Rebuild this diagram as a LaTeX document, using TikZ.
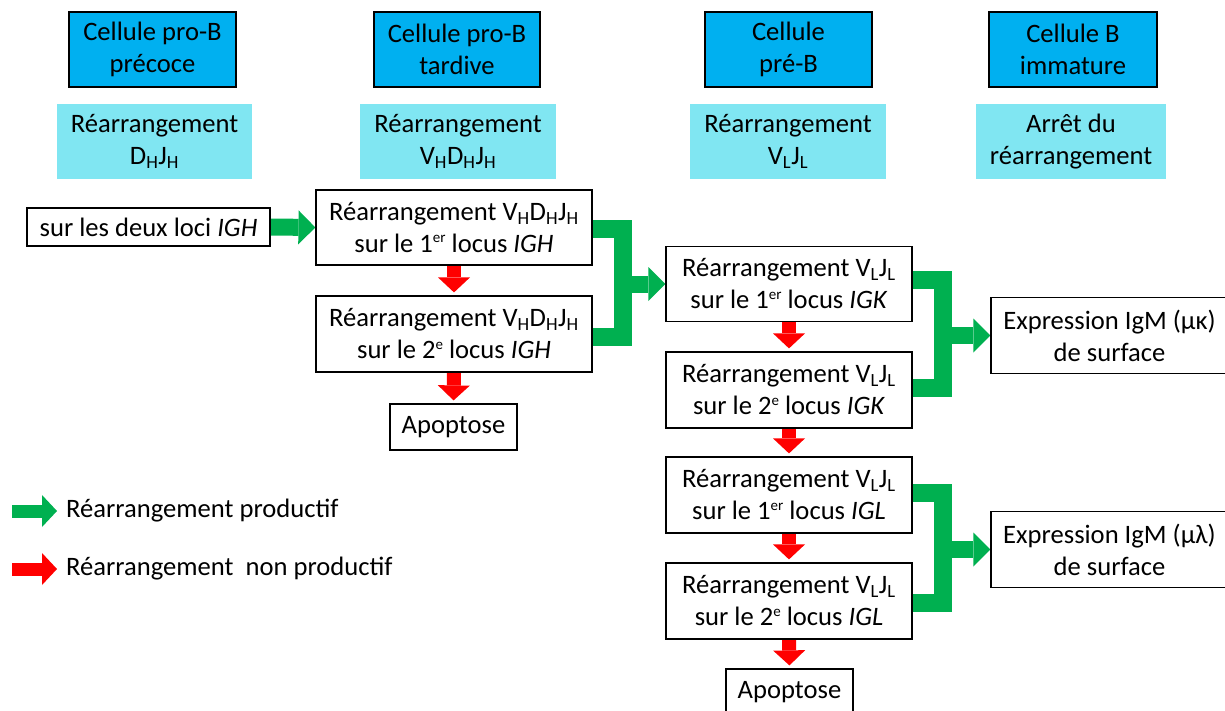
\documentclass[tikz,border=0pt]{standalone}
\usepackage{fontspec}
\setmainfont{Carlito}
\usetikzlibrary{arrows.meta,backgrounds,calc}
\definecolor{dblue}{RGB}{0,176,240}
\definecolor{lblue}{RGB}{128,230,242}
\definecolor{pgreen}{RGB}{0,176,80}
\definecolor{pred}{RGB}{255,0,0}
\newcommand\sps[1]{\raisebox{0.36em}{\fontsize{15}{15}\selectfont #1}}
\begin{document}
\begin{tikzpicture}[x=1pt,y=-1pt,
 every node/.style={font=\fontsize{26.6}{32}\selectfont, align=center, inner sep=0pt},
 stage/.style={draw=black, line width=1.2pt, fill=dblue, minimum width=167pt, minimum height=75pt},
 phase/.style={fill=lblue, minimum width=195pt, minimum height=75pt},
 box/.style={draw=black, line width=1.2pt, fill=white, minimum height=75pt},
 gline/.style={draw=pgreen, line width=18pt},
 garrow/.style={draw=pgreen, line width=17pt, -{Triangle[length=17pt,width=34pt,line width=0pt]}},
 rarrow/.style={draw=pred, line width=14pt, shorten >=3pt, -{Triangle[length=15pt,width=32pt,line width=0pt]}},
 legg/.style={draw=pgreen, line width=13pt, -{Triangle[length=15pt,width=32pt,line width=0pt]}},
 legr/.style={draw=pred, line width=13pt, -{Triangle[length=15pt,width=32pt,line width=0pt]}},
]
\useasboundingbox (0,0) rectangle (1225,711);
% stages
\node[stage] (d1) at (152.5,49.5) {Cellule pro-B\\précoce};
\node[stage, minimum width=166pt] (d2) at (457,49.5) {Cellule pro-B\\tardive};
\node[stage] (d3) at (788.5,49.5) {Cellule\\pré-B};
\node[stage, minimum width=168pt] (d4) at (1073,49.5) {Cellule B\\immature};
% phases
\node[phase] (l1) at (154.5,141.5) {Réarrangement\\D\textsubscript{H}J\textsubscript{H}};
\node[phase, minimum width=196pt] (l2) at (458,141.5) {Réarrangement\\V\textsubscript{H}D\textsubscript{H}J\textsubscript{H}};
\node[phase, minimum width=196pt] (l3) at (788,141.5) {Réarrangement\\V\textsubscript{L}J\textsubscript{L}};
\node[phase, minimum width=190pt] (l4) at (1071,141.5) {Arrêt du\\réarrangement};
% boxes
\node[box, minimum width=243pt, minimum height=38pt] (loci) at (148.5,227) {sur les deux loci \textit{IGH}};
\node[box, minimum width=276pt] (vh1) at (454,227.5) {Réarrangement V\textsubscript{H}D\textsubscript{H}J\textsubscript{H}\\sur le 1\sps{er} locus \textit{IGH}};
\node[box, minimum width=276pt, minimum height=76pt] (vh2) at (454,334) {Réarrangement V\textsubscript{H}D\textsubscript{H}J\textsubscript{H}\\sur le 2\sps{e} locus \textit{IGH}};
\node[box, minimum width=127pt, minimum height=46pt] (apo1) at (453.5,427) {Apoptose};
\node[box, minimum width=246pt] (ka) at (789,284) {Réarrangement V\textsubscript{L}J\textsubscript{L}\\sur le 1\sps{er} locus \textit{IGK}};
\node[box, minimum width=246pt, minimum height=76pt] (kb) at (789,390) {Réarrangement V\textsubscript{L}J\textsubscript{L}\\sur le 2\sps{e} locus \textit{IGK}};
\node[box, minimum width=246pt, minimum height=76pt] (la) at (789,495) {Réarrangement V\textsubscript{L}J\textsubscript{L}\\sur le 1\sps{er} locus \textit{IGL}};
\node[box, minimum width=246pt, minimum height=76pt] (lb) at (789,601) {Réarrangement V\textsubscript{L}J\textsubscript{L}\\sur le 2\sps{e} locus \textit{IGL}};
\node[box, minimum width=127pt, minimum height=46pt] (apo2) at (789.5,692) {Apoptose};
\node[box, minimum width=237pt, minimum height=76pt] (ek) at (1109.5,335.5) {Expression IgM (µκ)\\de surface};
\node[box, minimum width=237pt, minimum height=76pt] (el) at (1109.5,549.5) {Expression IgM (µλ)\\de surface};
% legend
\coordinate (g0) at (12,511);
\coordinate (g1) at (57,511);
\coordinate (r0) at (12,569);
\coordinate (r1) at (57,569);
\node[anchor=west] (lgg) at (66,511) {Réarrangement productif};
\node[anchor=west] (lgr) at (66,569) {Réarrangement~ non productif};
\coordinate (xb) at (623,0);
\coordinate (xk) at (943,0);
\begin{scope}[on background layer]
\draw[garrow] (loci.east) -- (vh1.west);
\draw[gline] ($(vh1.east)+(0,2)$) -- ($(vh1.east -| xb)+(0,2)$) -- ($(vh2.east -| xb)+(0,3)$) -- ($(vh2.east)+(0,3)$);
\draw[garrow] (xb |- ka.west) -- (ka.west);
\draw[gline] ($(ka.east)+(0,-4)$) -- ($(ka.east -| xk)+(0,-4)$) -- ($(kb.east -| xk)+(0,-2)$) -- ($(kb.east)+(0,-2)$);
\draw[garrow] (xk |- ek.west) -- (ek.west);
\draw[gline] ($(la.east)+(0,-2)$) -- ($(la.east -| xk)+(0,-2)$) -- ($(lb.east -| xk)+(0,2)$) -- ($(lb.east)+(0,2)$);
\draw[garrow] (xk |- el.west) -- (el.west);
\draw[rarrow] (vh1.south) -- (vh2.north);
\draw[rarrow] (vh2.south) -- (apo1.north);
\draw[rarrow] (ka.south) -- (kb.north);
\draw[rarrow] (kb.south) -- (la.north);
\draw[rarrow] (la.south) -- (lb.north);
\draw[rarrow] (lb.south) -- (apo2.north);
\draw[legg] (g0) -- (g1);
\draw[legr] (r0) -- (r1);
\end{scope}
\end{tikzpicture}
\end{document}
